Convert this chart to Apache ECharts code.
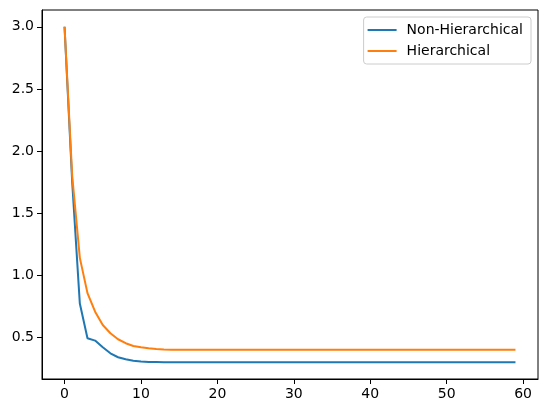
<!DOCTYPE html>
<html>
<head>
<meta charset="utf-8">
<script src="https://cdn.jsdelivr.net/npm/echarts@6/dist/echarts.min.js"></script>
<style>
  html, body { margin: 0; padding: 0; background: #fff; }
  #chart { width: 547px; height: 413px; }
</style>
</head>
<body>
<div id="chart"></div>
<script>
// x = 0..59
const steps = Array.from({ length: 60 }, (_, i) => i)

const nonHierarchical = [
  3.0, 1.75, 0.772, 0.493, 0.474, 0.42, 0.372, 0.34, 0.324, 0.312,
  0.305, 0.302, 0.301, 0.3, 0.3, 0.3, 0.3, 0.3, 0.3, 0.3,
  0.3, 0.3, 0.3, 0.3, 0.3, 0.3, 0.3, 0.3, 0.3, 0.3,
  0.3, 0.3, 0.3, 0.3, 0.3, 0.3, 0.3, 0.3, 0.3, 0.3,
  0.3, 0.3, 0.3, 0.3, 0.3, 0.3, 0.3, 0.3, 0.3, 0.3,
  0.3, 0.3, 0.3, 0.3, 0.3, 0.3, 0.3, 0.3, 0.3, 0.3,
]
const hierarchical = [
  3.0, 1.8, 1.14, 0.856, 0.707, 0.6, 0.533, 0.485, 0.453, 0.431,
  0.42, 0.412, 0.406, 0.403, 0.401, 0.4, 0.4, 0.4, 0.4, 0.4,
  0.4, 0.4, 0.4, 0.4, 0.4, 0.4, 0.4, 0.4, 0.4, 0.4,
  0.4, 0.4, 0.4, 0.4, 0.4, 0.4, 0.4, 0.4, 0.4, 0.4,
  0.4, 0.4, 0.4, 0.4, 0.4, 0.4, 0.4, 0.4, 0.4, 0.4,
  0.4, 0.4, 0.4, 0.4, 0.4, 0.4, 0.4, 0.4, 0.4, 0.4,
]
const xTicks = [0, 10, 20, 30, 40, 50, 60]
const yTicks = [0.5, 1.0, 1.5, 2.0, 2.5, 3.0]

const font = 'DejaVu Sans'
const chart = echarts.init(document.getElementById('chart'), null, { renderer: 'canvas' })

const axisCommon = {
  axisLine: { show: true, onZero: false, lineStyle: { color: '#000', width: 1 } },
  axisTick: { show: true, inside: false, length: 5, lineStyle: { color: '#000', width: 1 } },
  splitLine: { show: false },
}

chart.setOption({
  animation: false,
  grid: { left: 42, right: 9, top: 10, bottom: 34, show: true, borderColor: '#000', borderWidth: 1 },
  legend: {
    orient: 'vertical',
    right: 16,
    top: 17,
    padding: [6, 8, 6, 4],
    itemGap: 7,
    itemWidth: 29,
    itemHeight: 2,
    icon: 'rect',
    borderColor: '#ccc',
    borderWidth: 1,
    borderRadius: 3,
    textStyle: { fontFamily: font, fontSize: 14, color: '#000', padding: [0, 0, 0, 5] },
    data: ['Non-Hierarchical', 'Hierarchical'],
  },
  xAxis: {
    type: 'value',
    min: -2.95,
    max: 61.95,
    ...axisCommon,
    axisTick: { ...axisCommon.axisTick, customValues: xTicks },
    axisLabel: { customValues: xTicks, color: '#000', fontFamily: font, fontSize: 14, margin: 8 },
  },
  yAxis: {
    type: 'value',
    min: 0.165,
    max: 3.135,
    ...axisCommon,
    axisTick: { ...axisCommon.axisTick, customValues: yTicks },
    axisLabel: {
      customValues: yTicks, color: '#000', fontFamily: font, fontSize: 14, margin: 8,
      formatter: (v) => v.toFixed(1),
    },
  },
  series: [
    {
      name: 'Non-Hierarchical', type: 'line', symbol: 'none', color: '#1f77b4',
      lineStyle: { width: 2 },
      data: steps.map((x, i) => [x, nonHierarchical[i]]),
    },
    {
      name: 'Hierarchical', type: 'line', symbol: 'none', color: '#ff7f0e',
      lineStyle: { width: 2 },
      data: steps.map((x, i) => [x, hierarchical[i]]),
    },
  ],
})
</script>
</body>
</html>
